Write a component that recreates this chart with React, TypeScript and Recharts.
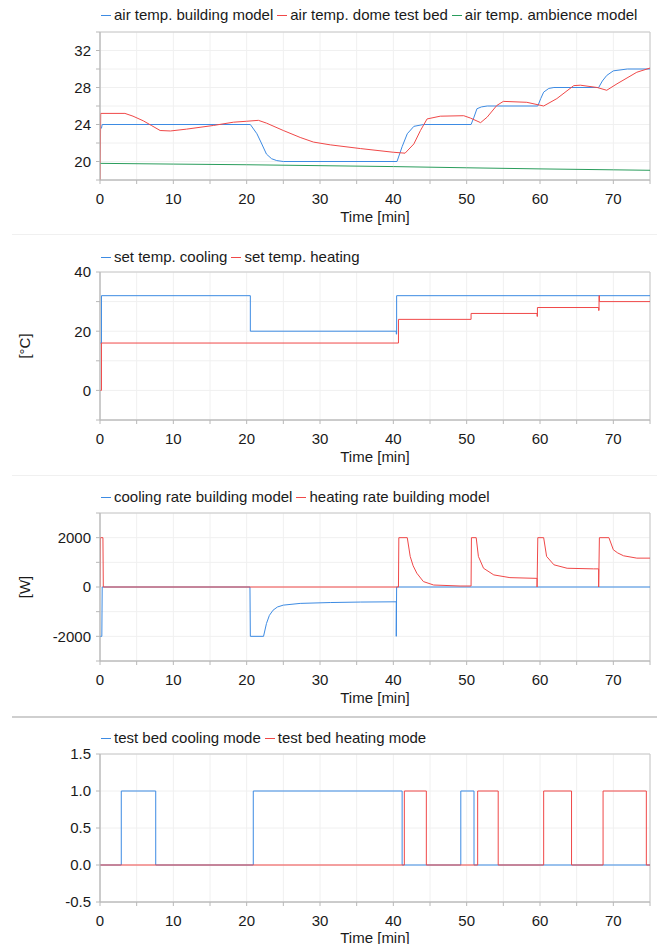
import React from 'react';
import { LineChart, Line, XAxis, YAxis, CartesianGrid, ReferenceArea } from 'recharts';

// ---- time axis (minutes) ----
const timeTicks = [0, 5, 10, 15, 20, 25, 30, 35, 40, 45, 50, 55, 60, 65, 70, 75];

// ---- panel 1: air temperatures [°C] ----
const buildingAirTime = [0, 0.2, 0.3, 20.5, 21.4, 22.0, 22.7, 23.4, 24.1, 25.0, 40.5, 41.2, 41.9, 42.8, 44.1, 50.6, 51.0, 51.4, 52.0, 52.8, 59.7, 60.1, 60.5, 61.2, 61.9, 68.0, 68.5, 69.1, 70.0, 71.9, 75];
const buildingAirTemp = [23.6, 23.6, 24.0, 24.0, 23.0, 22.0, 20.8, 20.3, 20.1, 20.0, 20.0, 21.6, 23.0, 23.8, 24.0, 24.0, 24.8, 25.7, 25.9, 26.0, 26.0, 26.8, 27.5, 27.9, 28.0, 28.0, 28.7, 29.3, 29.8, 30.0, 30.0];

const domeAirTime = [0, 0.1, 3.4, 4.5, 5.9, 7.0, 8.2, 9.6, 11.8, 15.5, 18.2, 20.0, 21.6, 22.7, 25.0, 27.3, 29.1, 31.4, 35.5, 40.0, 41.6, 42.8, 43.7, 44.6, 46.4, 49.6, 50.5, 51.9, 52.8, 54.1, 55.0, 58.2, 60.5, 62.3, 64.6, 65.5, 67.8, 69.1, 70.5, 73.2, 75];
const domeAirTemp = [17.5, 25.2, 25.2, 24.9, 24.4, 23.9, 23.35, 23.3, 23.5, 23.9, 24.25, 24.35, 24.45, 24.15, 23.35, 22.6, 22.1, 21.8, 21.4, 21.0, 20.9, 21.9, 23.35, 24.6, 24.9, 24.95, 24.7, 24.2, 24.8, 26.05, 26.5, 26.4, 26.0, 26.8, 28.2, 28.25, 28.0, 27.7, 28.4, 29.65, 30.1];

const ambienceAirTime = [0, 10, 20, 30, 40, 50, 60, 70, 75];
const ambienceAirTemp = [19.8, 19.72, 19.65, 19.55, 19.45, 19.32, 19.2, 19.1, 19.05];

// ---- panel 2: set temperatures [°C] ----
const setCoolTime = [0, 0.2, 20.5, 40.4, 40.45, 75];
const setCoolTemp = [16, 32, 20, 19, 32, 32];
const setHeatTime = [0, 0.2, 40.7, 50.6, 59.6, 59.65, 68.0, 68.05, 68.1, 75];
const setHeatTemp = [0, 16, 24, 26, 25, 28, 27, 32, 30, 30];

// ---- panel 3: building model rates [W] ----
const coolRateTime = [0, 0.25, 0.3, 20.45, 20.5, 22.3, 22.7, 23.1, 23.6, 24.2, 25.0, 27.3, 31.4, 35.5, 40.4, 40.4, 40.45, 75];
const coolRateValue = [-2000, -2000, 0, 0, -2000, -2000, -1480, -1150, -940, -810, -735, -665, -630, -610, -600, -2000, 0, 0];

const heatRateTime = [0, 0.05, 0.4, 0.45, 40.7, 40.75, 41.9, 42.3, 42.7, 43.2, 44.1, 45.5, 49.1, 50.6, 50.65, 51.3, 51.6, 52.3, 53.7, 55.9, 59.6, 59.6, 59.7, 60.5, 60.9, 61.9, 63.7, 67.3, 68.0, 68.0, 68.1, 69.4, 70.0, 70.6, 71.4, 73.2, 75];
const heatRateValue = [0, 2000, 2000, 0, 0, 2000, 2000, 1240, 860, 560, 220, 80, 40, 40, 2000, 2000, 1240, 760, 490, 380, 350, 0, 2000, 2000, 1240, 900, 760, 735, 735, 0, 2000, 2000, 1510, 1380, 1265, 1170, 1170];

// ---- panel 4: test bed modes ----
const coolModeTime = [0, 2.9, 7.6, 20.9, 41.2, 49.2, 51.0, 75];
const coolModeValue = [0, 1, 0, 1, 0, 1, 0, 0];
const heatModeTime = [0, 41.5, 44.5, 51.5, 54.3, 60.5, 64.3, 68.6, 74.5, 75];
const heatModeValue = [0, 1, 0, 1, 0, 1, 0, 1, 0, 0];

const BLUE = '#3d8be3';
const RED = '#f04848';
const GREEN = '#2a9d5c';

const FONT = '"Liberation Sans", Arial, sans-serif';
const PLOT_H = 148;
const MARGIN_TOP = 32;
const AXIS_H = 45;
const CHART_W = 657;
const CHART_H = MARGIN_TOP + PLOT_H + AXIS_H;

type Series = {
  name: string;
  color: string;
  time: number[];
  value: number[];
  step?: boolean;
};

const toPoints = (time: number[], value: number[]) =>
  time.map((t, i) => ({ t, v: value[i] }));

function Legend({ series, top }: { series: Series[]; top: number }) {
  return (
    <div
      style={{
        position: 'absolute',
        top: top - 9,
        left: 100,
        height: 18,
        display: 'flex',
        alignItems: 'center',
        fontFamily: FONT,
        fontSize: 15,
        color: '#1a1a1a',
        whiteSpace: 'nowrap',
        lineHeight: '18px',
      }}
    >
      {series.map((s) => (
        <span key={s.name} style={{ display: 'flex', alignItems: 'center', marginRight: 3 }}>
          <svg width={14} height={18} style={{ display: 'block' }}>
            <line x1={1} x2={11} y1={9.5} y2={9.5} stroke={s.color} strokeWidth={1} />
          </svg>
          {s.name}
        </span>
      ))}
    </div>
  );
}

interface PanelProps {
  top: number;
  legendOffset: number;
  series: Series[];
  yDomain: [number, number];
  yTicks: number[];
  yFormat: (v: number) => string;
  yLabel?: string;
  titleOffset?: number;
}

function Panel({ top, legendOffset, series, yDomain, yTicks, yFormat, yLabel, titleOffset = 3 }: PanelProps) {
  const tickStyle = { fontSize: 15, fill: '#1a1a1a', fontFamily: FONT };
  return (
    <div style={{ position: 'absolute', top, left: 0, width: CHART_W, height: CHART_H }}>
      <Legend series={series} top={MARGIN_TOP - legendOffset} />
      <LineChart width={CHART_W} height={CHART_H} margin={{ top: MARGIN_TOP, right: 7, bottom: 0, left: 0 }}>
        <CartesianGrid stroke="#f0f0f0" />
        <XAxis
          dataKey="t"
          type="number"
          domain={[0, 75]}
          ticks={timeTicks}
          allowDataOverflow
          interval={0}
          height={AXIS_H}
          stroke="#b8b8b8"
          tickSize={4}
          tickMargin={9}
          tick={tickStyle}
          tickFormatter={(v: number) => (v % 10 === 0 ? String(v) : '')}
          label={{ value: 'Time [min]', position: 'insideBottom', offset: titleOffset, fontSize: 15, fill: '#1a1a1a', fontFamily: FONT }}
        />
        <YAxis
          type="number"
          domain={yDomain}
          ticks={yTicks}
          allowDataOverflow
          interval={0}
          width={100}
          stroke="#b8b8b8"
          tickSize={4}
          tickMargin={5}
          tick={tickStyle}
          tickFormatter={yFormat}
          label={
            yLabel
              ? ({ viewBox }: any) => {
                  const cy = viewBox.y + viewBox.height / 2;
                  return (
                    <text
                      x={24}
                      y={cy}
                      transform={`rotate(-90 24 ${cy})`}
                      textAnchor="middle"
                      dominantBaseline="central"
                      fontSize={15}
                      fill="#1a1a1a"
                      fontFamily={FONT}
                    >
                      {yLabel}
                    </text>
                  );
                }
              : undefined
          }
        />
        <ReferenceArea x1={0} x2={75} y1={yDomain[0]} y2={yDomain[1]} fill="none" stroke="#c8c8c8" />
        {series.map((s) => (
          <Line
            key={s.name}
            data={toPoints(s.time, s.value)}
            dataKey="v"
            type={s.step ? 'stepAfter' : 'linear'}
            stroke={s.color}
            strokeWidth={1}
            dot={false}
            activeDot={false}
            isAnimationActive={false}
          />
        ))}
      </LineChart>
    </div>
  );
}

const airSeries: Series[] = [
  { name: 'air temp. building model', color: BLUE, time: buildingAirTime, value: buildingAirTemp },
  { name: 'air temp. dome test bed', color: RED, time: domeAirTime, value: domeAirTemp },
  { name: 'air temp. ambience model', color: GREEN, time: ambienceAirTime, value: ambienceAirTemp },
];

const setSeries: Series[] = [
  { name: 'set temp. cooling', color: BLUE, time: setCoolTime, value: setCoolTemp, step: true },
  { name: 'set temp. heating', color: RED, time: setHeatTime, value: setHeatTemp, step: true },
];

const rateSeries: Series[] = [
  { name: 'cooling rate building model', color: BLUE, time: coolRateTime, value: coolRateValue },
  { name: 'heating rate building model', color: RED, time: heatRateTime, value: heatRateValue },
];

const modeSeries: Series[] = [
  { name: 'test bed cooling mode', color: BLUE, time: coolModeTime, value: coolModeValue, step: true },
  { name: 'test bed heating mode', color: RED, time: heatModeTime, value: heatModeValue, step: true },
];

export default function App() {
  return (
    <div
      style={{
        position: 'absolute',
        top: 0,
        left: 0,
        width: 657,
        height: 944,
        overflow: 'hidden',
        background: '#fff',
      }}
    >
      <Panel
        top={0}
        legendOffset={17}
        series={airSeries}
        yDomain={[18, 34]}
        yTicks={[18, 20, 22, 24, 26, 28, 30, 32, 34]}
        yFormat={(v) => (v >= 20 && v <= 32 && v % 4 === 0 ? String(v) : '')}
      />
      <div style={{ position: 'absolute', top: 234, left: 12, width: 645, height: 1, background: '#f0f0f0' }} />
      <Panel
        top={240}
        legendOffset={15}
        series={setSeries}
        yDomain={[-10, 40]}
        yTicks={[-10, 0, 10, 20, 30, 40]}
        yFormat={(v) => (v >= 0 && v % 20 === 0 ? String(v) : '')}
        yLabel="[°C]"
      />
      <div style={{ position: 'absolute', top: 475, left: 12, width: 645, height: 1, background: '#f0f0f0' }} />
      <Panel
        top={481}
        legendOffset={16}
        series={rateSeries}
        yDomain={[-3000, 3000]}
        yTicks={[-3000, -2000, -1000, 0, 1000, 2000, 3000]}
        yFormat={(v) => (Math.abs(v) <= 2000 && v % 2000 === 0 ? String(v) : '')}
        yLabel="[W]"
      />
      <div style={{ position: 'absolute', top: 716, left: 12, width: 645, height: 2, background: '#cfcfcf' }} />
      <Panel
        top={722}
        legendOffset={16}
        series={modeSeries}
        yDomain={[-0.5, 1.5]}
        yTicks={[-0.5, 0, 0.5, 1, 1.5]}
        yFormat={(v) => v.toFixed(1)}
        titleOffset={4}
      />
    </div>
  );
}
